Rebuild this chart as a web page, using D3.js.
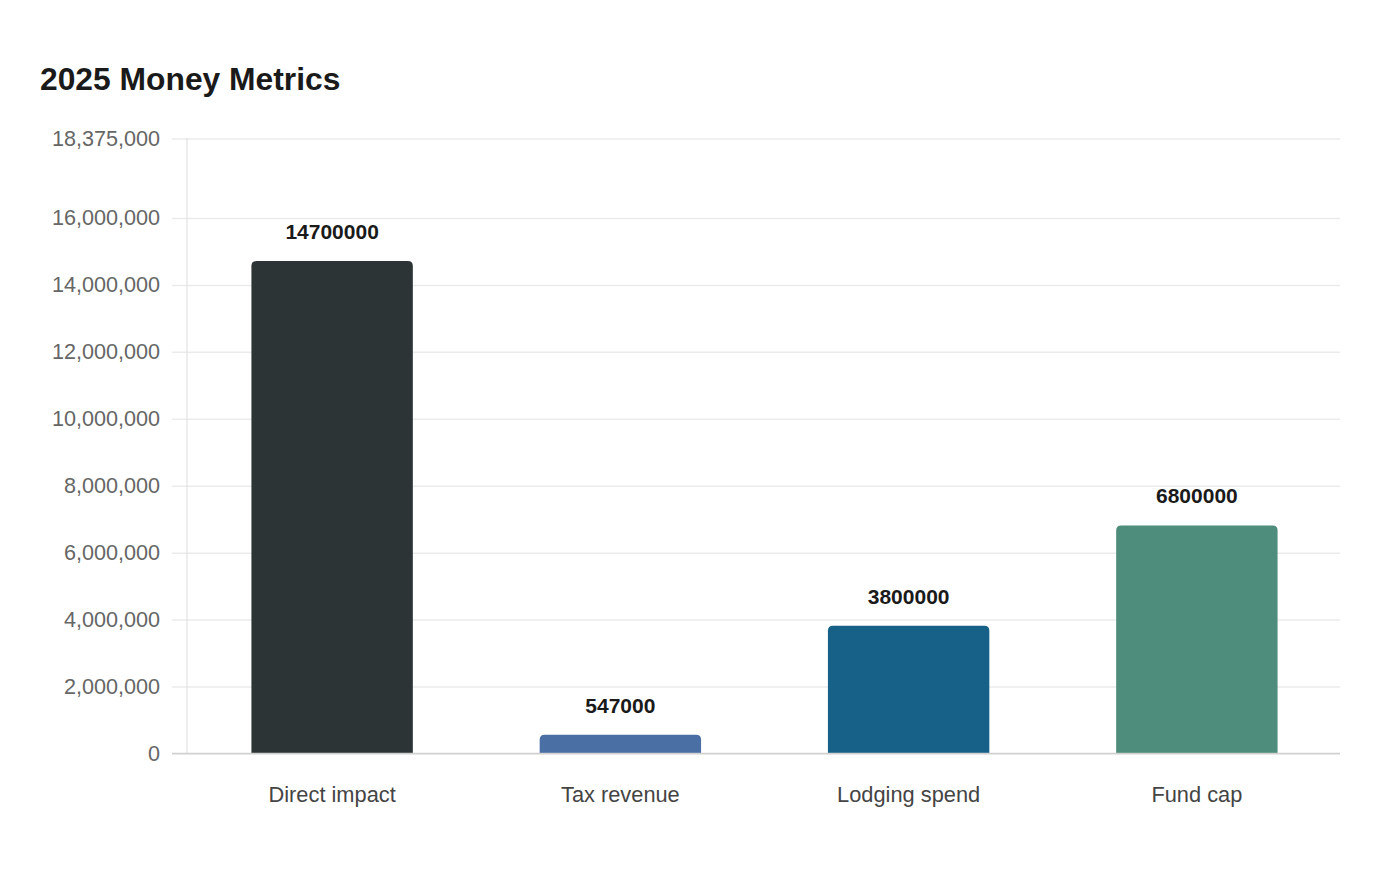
<!DOCTYPE html>
<html>
<head>
<meta charset="utf-8">
<script src="https://cdn.jsdelivr.net/npm/d3@7"></script>
<style>
  body { margin: 0; background: #ffffff; }
  text { font-family: "Liberation Sans", Arial, sans-serif; }
</style>
</head>
<body>
<div id="canvas"></div>
<script>
"use strict"

/* Configuration variables: drawing */
let svgWidth = 1400;
let svgHeight = 880;
/* margins of the plot area */
let leftMargin = 187
let rightMargin = 60
let topMargin = 138
let bottomMargin = 127

/* data */
let categories = ["Direct impact", "Tax revenue", "Lodging spend", "Fund cap"];
let values = [14700000, 547000, 3800000, 6800000];
let barColors = ["#2d3436", "#4a6fa5", "#176087", "#4e8d7b"];
let tickValues = [0, 2000000, 4000000, 6000000, 8000000, 10000000, 12000000, 14000000, 16000000, 18375000];
let yMax = 18375000;

let svg = d3.select("#canvas")
    .append("svg")
    .attr("width", svgWidth)
    .attr("height", svgHeight);

/* title */
svg.append("text")
    .attr("x", 40)
    .attr("y", 90)
    .attr("font-size", 31.8)
    .attr("font-weight", "bold")
    .attr("fill", "#1a1a1a")
    .text("2025 Money Metrics");

let xScale = d3.scaleBand()
    .domain(categories)
    .range([leftMargin + 1, svgWidth - rightMargin + 1])
    .paddingInner(0.44)
    .paddingOuter(0.22);

let yScale = d3.scaleLinear()
    .domain([0, yMax])
    .range([svgHeight - bottomMargin, topMargin]);

/* gridlines + y tick labels */
let yAxis = d3.axisLeft(yScale)
    .tickValues(tickValues)
    .tickSize(-(svgWidth - rightMargin - leftMargin + 15))
    .tickPadding(12)
    .tickFormat(d3.format(","));

let yAxisG = svg.append("g")
    .attr("transform", "translate(" + (leftMargin - 15) + ",0.5)")
    .call(yAxis);
yAxisG.select(".domain").remove();
yAxisG.selectAll(".tick line")
    .attr("stroke", "#ebebeb")
    .attr("stroke-width", 1.5);
yAxisG.selectAll(".tick text")
    .attr("font-size", 21.6)
    .attr("font-family", "Liberation Sans, Arial, sans-serif")
    .attr("fill", "#666666");

/* y axis line */
svg.append("line")
    .attr("x1", leftMargin)
    .attr("x2", leftMargin)
    .attr("y1", topMargin)
    .attr("y2", svgHeight - bottomMargin)
    .attr("stroke", "#dddddd")
    .attr("stroke-width", 1);

/* bars with rounded top corners */
let r = 5;
svg.selectAll("path.bar")
    .data(values)
    .join("path")
    .attr("class", "bar")
    .attr("fill", function (d, i) { return barColors[i]; })
    .attr("d", function (d, i) {
        let x0 = xScale(categories[i]);
        let x1 = x0 + xScale.bandwidth();
        let y0 = yScale(0);
        let y1 = yScale(d);
        let rr = Math.min(r, (y0 - y1) / 2);
        return "M" + x0 + "," + y0 +
            "V" + (y1 + rr) +
            "Q" + x0 + "," + y1 + " " + (x0 + rr) + "," + y1 +
            "H" + (x1 - rr) +
            "Q" + x1 + "," + y1 + " " + x1 + "," + (y1 + rr) +
            "V" + y0 + "Z";
    });

/* x baseline */
svg.append("line")
    .attr("x1", leftMargin - 15)
    .attr("x2", svgWidth - rightMargin)
    .attr("y1", yScale(0) + 0.5)
    .attr("y2", yScale(0) + 0.5)
    .attr("stroke", "#d0d0d0")
    .attr("stroke-width", 1.5);

/* value labels */
svg.selectAll("text.value")
    .data(values)
    .join("text")
    .attr("class", "value")
    .attr("x", function (d, i) { return xScale(categories[i]) + xScale.bandwidth() / 2; })
    .attr("y", function (d) { return yScale(d) - 22; })
    .attr("text-anchor", "middle")
    .attr("font-size", 21)
    .attr("font-weight", "bold")
    .attr("fill", "#1a1a1a")
    .text(function (d) { return d; });

/* category labels */
svg.selectAll("text.cat")
    .data(categories)
    .join("text")
    .attr("class", "cat")
    .attr("x", function (d) { return xScale(d) + xScale.bandwidth() / 2; })
    .attr("y", yScale(0) + 49)
    .attr("text-anchor", "middle")
    .attr("font-size", 21.8)
    .attr("fill", "#444444")
    .text(function (d) { return d; });
</script>
</body>
</html>
